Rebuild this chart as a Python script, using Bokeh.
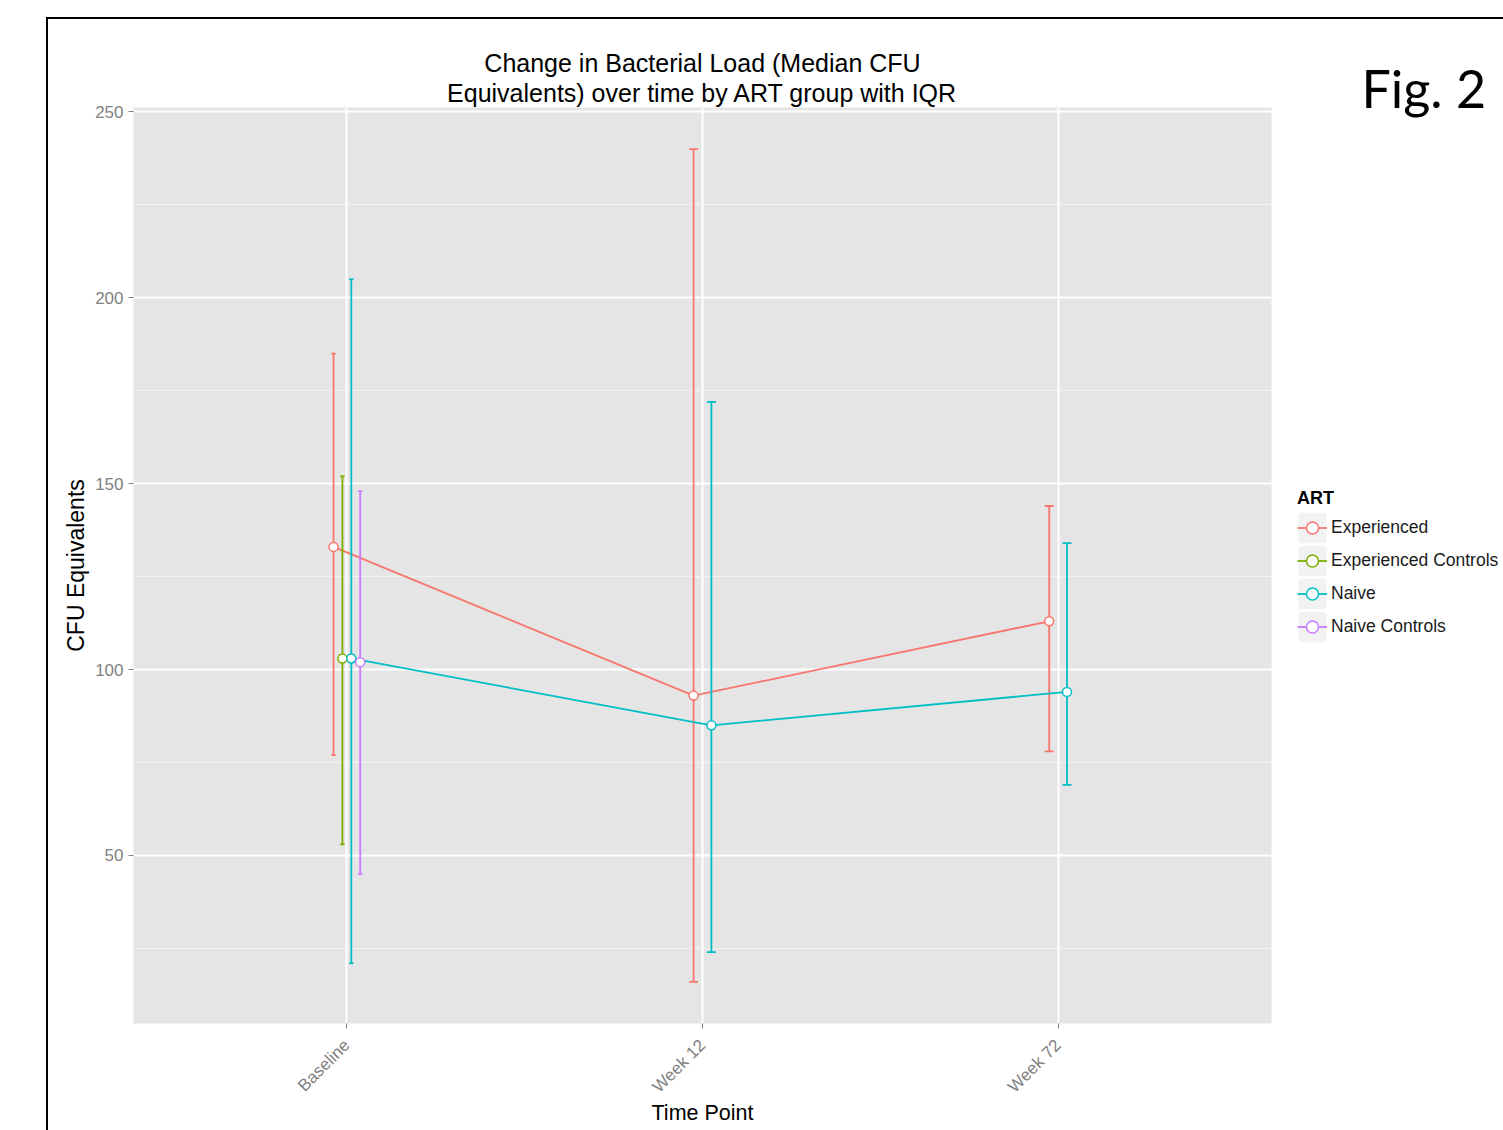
import math
from bokeh.plotting import figure
from bokeh.layouts import row
from bokeh.models import (Range1d, FixedTicker, ColumnDataSource, Legend, LegendItem, Title)
from bokeh.embed import file_html
from bokeh.resources import INLINE

# ---------------- data ----------------
time_points = ["Baseline", "Week 12", "Week 72"]
groups = ["Experienced", "Experienced Controls", "Naive", "Naive Controls"]
colors = ["#F8766D", "#7CAE00", "#00BFC4", "#C77CFF"]

median_experienced = [133, 93, 113]
q1_experienced = [77, 16, 78]
q3_experienced = [185, 240, 144]

median_exp_controls = [103, None, None]
q1_exp_controls = [53, None, None]
q3_exp_controls = [152, None, None]

median_naive = [103, 85, 94]
q1_naive = [21, 24, 69]
q3_naive = [205, 172, 134]

median_naive_controls = [102, None, None]
q1_naive_controls = [45, None, None]
q3_naive_controls = [148, None, None]

y_ticks = [50, 100, 150, 200, 250]
y_minor = [25, 75, 125, 175, 225]

title_lines = ["Change in Bacterial Load (Median CFU",
               "Equivalents) over time by ART group with IQR"]
fig_label = "Fig. 2"

series = {
    "Experienced": (median_experienced, q1_experienced, q3_experienced),
    "Experienced Controls": (median_exp_controls, q1_exp_controls, q3_exp_controls),
    "Naive": (median_naive, q1_naive, q3_naive),
    "Naive Controls": (median_naive_controls, q1_naive_controls, q3_naive_controls),
}

DODGE = 0.1
CAP = 0.05
FONT = "Liberation Sans"
GREY = "#7F7F7F"
NAN = float("nan")

present = {t: [g for g in groups if series[g][0][i] is not None] for i, t in enumerate(time_points)}

# ---------------- main plot ----------------
p = figure(width=1233, height=1111,
           x_range=Range1d(0.4, 3.6), y_range=Range1d(4.8, 251.2),
           output_backend="svg", toolbar_location=None,
           min_border_left=85, min_border_right=10,
           min_border_top=88, min_border_bottom=107,
           background_fill_color="#E5E5E5", border_fill_color="white",
           outline_line_color=None)

p.title.text = title_lines[0]
p.title.align = "center"
p.title.text_font = FONT
p.title.text_font_size = "25px"
p.title.text_font_style = "normal"
p.title.text_color = "black"
p.title.standoff = 0
t2 = Title(text=title_lines[1], align="center", text_font=FONT, text_font_size="25px",
           text_font_style="normal", text_color="black", standoff=1)
p.add_layout(t2, "above")

p.xaxis.ticker = FixedTicker(ticks=[1, 2, 3])
p.xaxis.major_label_overrides = {i + 1: t for i, t in enumerate(time_points)}
p.xaxis.major_label_orientation = math.pi / 4
p.yaxis.ticker = FixedTicker(ticks=y_ticks, minor_ticks=y_minor)
for ax in (p.xaxis, p.yaxis):
    ax.axis_line_color = None
    ax.major_tick_line_color = GREY
    ax.major_tick_out = 5
    ax.major_tick_in = 0
    ax.minor_tick_line_color = None
    ax.major_label_text_color = GREY
    ax.major_label_text_font = FONT
    ax.major_label_text_font_size = "17px"
    ax.major_label_standoff = 5
    ax.axis_label_text_font = FONT
    ax.axis_label_text_font_style = "normal"
    ax.axis_label_text_color = "black"
    ax.axis_label_standoff = 4
p.xaxis.major_label_standoff = 14
p.xaxis.axis_label_standoff = -5
p.xaxis.axis_label_text_font_size = "21.5px"
p.yaxis.axis_label_text_font_size = "23px"
p.yaxis.axis_label_standoff = 3
p.xaxis.axis_label = "Time Point"
p.yaxis.axis_label = "CFU Equivalents"

p.xgrid.grid_line_color = "white"
p.xgrid.grid_line_width = 2
p.ygrid.grid_line_color = "white"
p.ygrid.grid_line_width = 2
p.ygrid.minor_grid_line_color = "#F2F2F2"
p.ygrid.minor_grid_line_width = 1

for g, col in zip(groups, colors):
    med, lo, hi = series[g]
    xs, ys, los, his, ws = [], [], [], [], []
    for i, t in enumerate(time_points):
        if med[i] is None:
            continue
        n = len(present[t])
        k = present[t].index(g)
        xs.append(i + 1 - DODGE / 2 + (k + 0.5) * DODGE / n)
        ys.append(med[i])
        los.append(lo[i])
        his.append(hi[i])
        ws.append(CAP / n)
    src = ColumnDataSource(dict(
        x=xs, y=ys, lo=los, hi=his,
        xl=[a - w / 2 for a, w in zip(xs, ws)],
        xr=[a + w / 2 for a, w in zip(xs, ws)]))
    if len(xs) > 1:
        p.line("x", "y", source=src, line_color=col, line_width=1.8)
    p.segment(x0="x", y0="lo", x1="x", y1="hi", source=src, line_color=col, line_width=1.8)
    p.segment(x0="xl", y0="lo", x1="xr", y1="lo", source=src, line_color=col, line_width=1.8)
    p.segment(x0="xl", y0="hi", x1="xr", y1="hi", source=src, line_color=col, line_width=1.8)
    p.scatter("x", "y", source=src, size=9, fill_color="white", line_color=col, line_width=1.5)

# ---------------- side panel: legend + "Fig. 2" ----------------
s = figure(width=222, height=1111, x_range=Range1d(0, 1), y_range=Range1d(0, 1),
           output_backend="svg", toolbar_location=None,
           x_axis_type=None, y_axis_type=None,
           min_border_left=0, min_border_right=0, min_border_top=0, min_border_bottom=0,
           background_fill_color="white", border_fill_color="white",
           outline_line_color=None)
s.xgrid.visible = False
s.ygrid.visible = False
s.title.text = fig_label
s.title.align = "left"
s.title.offset = 80
s.title.standoff = -22
s.title.text_font = "Lato"
s.title.text_font_size = "52px"
s.title.text_font_style = "normal"
s.title.text_color = "black"

legend_items = []
for g, col in zip(groups, colors):
    kq = s.quad(left=[NAN], right=[NAN], top=[NAN], bottom=[NAN], fill_color="#F2F2F2",
                line_color="#F2F2F2", line_width=4)
    kl = s.line(x=[NAN, NAN], y=[NAN, NAN], line_color=col, line_width=1.8)
    ks = s.scatter(x=[NAN], y=[NAN], size=9, fill_color="white", line_color=col, line_width=1.5)
    legend_items.append(LegendItem(label=g, renderers=[kq, kl, ks]))

legend = Legend(items=legend_items, title="ART", location=(16, 380),
                title_text_font=FONT, title_text_font_style="bold",
                title_text_font_size="18px", title_standoff=2, title_text_color="black",
                label_text_font=FONT, label_text_font_size="17.5px",
                label_text_color="#1A1A1A",
                label_standoff=4, glyph_width=30, glyph_height=33, spacing=0,
                padding=0, margin=0, border_line_color=None,
                background_fill_alpha=0)
s.add_layout(legend, "center")

lay = row(p, s)
lay.margin = (17, 0, 0, 46)
lay.styles = {"border-left": "2px solid black", "border-top": "2px solid black"}

open("out.html", "w").write(file_html(lay, INLINE))
